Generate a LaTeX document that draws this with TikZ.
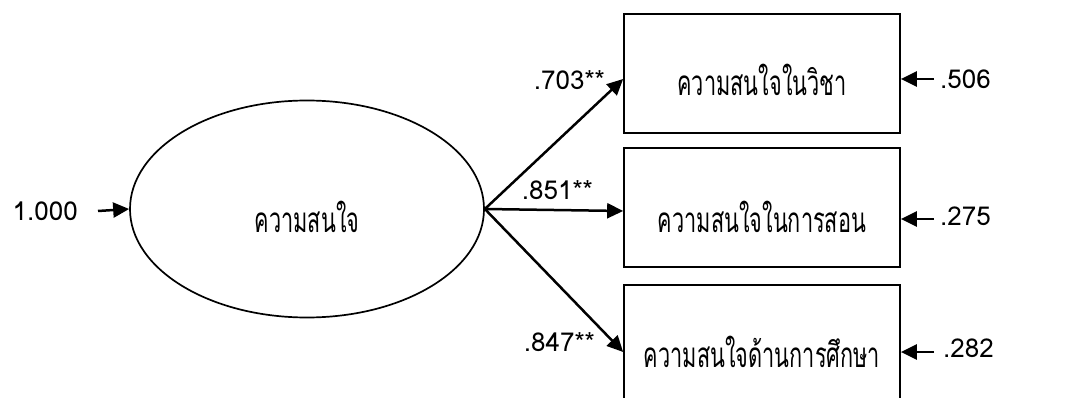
\documentclass[tikz,border=0pt]{standalone}
\usepackage{fontspec}
\setmainfont[Script=Thai]{Loma}
\newfontfamily\thaifont[Script=Thai,FakeStretch=0.62]{Loma}
\usetikzlibrary{arrows.meta,shapes.geometric}
\tikzset{
  arr/.style={line width=2.5pt,-{Triangle[length=16pt,width=15pt]}},
  obs/.style={draw,line width=1.7pt,rectangle,minimum width=276pt,minimum height=119pt,inner sep=0pt},
  latent/.style={draw,line width=1.7pt,ellipse,minimum width=354pt,minimum height=217pt,inner sep=0pt},
  lbl/.style={inner sep=0pt,font=\fontsize{26}{30}\selectfont},
  tlbl/.style={inner sep=0pt,font=\fontsize{35}{40}\thaifont},
}
\begin{document}
\begin{tikzpicture}[x=1pt,y=-1pt]
\useasboundingbox (0,0) rectangle (1075,398);
\clip (0,0) rectangle (1075,398);
\node[latent] (lat) at (307,209) {};
\node[tlbl] (latt) at (307,217) {ความสนใจ};
\node[obs] (b1) at (762,73.5) {};
\node[obs] (b2) at (762,207.5) {};
\node[obs] (b3) at (762,344.5) {};
\node[tlbl] (t1) at (762,80) {ความสนใจในวิชา};
\node[tlbl] (t2) at (762,217) {ความสนใจในการสอน};
\node[tlbl] (t3) at (762,352) {ความสนใจด้านการศึกษา};
\coordinate (e1) at (b1.west |- 0,79);
\coordinate (e2) at (b2.west |- 0,211);
\coordinate (e3) at (b3.west |- 0,352);
\draw[arr] (lat.east) -- (e1);
\draw[arr] (lat.east) -- (e2);
\draw[arr] (lat.east) -- (e3);
\node[lbl,anchor=east] (l1) at (605,80) {.703**};
\node[lbl,anchor=east] (l2) at (593,190) {.851**};
\node[lbl,anchor=east] (l3) at (595,342) {.847**};
\coordinate (s0) at (98,211);
\draw[arr] (s0) -- (lat.west);
\node[lbl,anchor=east] (v0) at (78,211) {1.000};
\coordinate (s1) at (934,79);
\coordinate (s2) at (934,219);
\coordinate (s3) at (934,352);
\draw[arr] (s1) -- (b1.east |- s1);
\draw[arr] (s2) -- (b2.east |- s2);
\draw[arr] (s3) -- (b3.east |- s3);
\node[lbl,anchor=west] (v1) at (940,79) {.506};
\node[lbl,anchor=west] (v2) at (940,216) {.275};
\node[lbl,anchor=west] (v3) at (943,348) {.282};
\end{tikzpicture}
\end{document}
